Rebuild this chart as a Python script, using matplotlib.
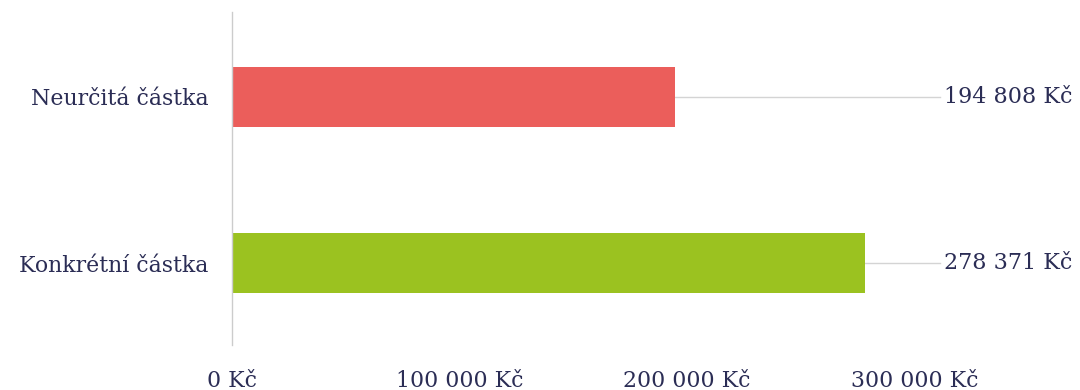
import matplotlib.pyplot as plt

kategorie = ['Konkrétní částka', 'Neurčitá částka']
hodnoty = [278371, 194808]
barvy = ['#9BC220', '#EB5E5B']
popisky = ['278 371 Kč', '194 808 Kč']
ticky = [0, 100000, 200000, 300000]
tick_popisky = ['0 Kč', '100 000 Kč', '200 000 Kč', '300 000 Kč']

text_barva = '#2B2D55'
plt.rcParams['font.family'] = ['DejaVu Serif']

fig = plt.figure(figsize=(10.8, 3.9), dpi=100)
ax = fig.add_axes([0.2148, 0.1154, 0.870 - 0.2148, 0.969 - 0.1154])

y = range(len(kategorie))
ax.barh(y, hodnoty, height=0.36, color=barvy, zorder=2)

xmax = 311000
for i, v in enumerate(hodnoty):
    # vodici cara od konce sloupce k popisku
    ax.plot([v, xmax], [i, i], color='#d4d4d4', lw=1, zorder=1, clip_on=False)
    ax.text(xmax + 2000, i, popisky[i], va='center', ha='left',
            fontsize=16, color=text_barva)

ax.set_xlim(0, xmax)
ax.set_ylim(-0.49, 1.51)
ax.set_yticks(list(y))
ax.set_yticklabels(kategorie, fontsize=15.8, color=text_barva)
ax.set_xticks(ticks=ticky)
ax.set_xticklabels(tick_popisky, fontsize=15.8, color=text_barva)
ax.tick_params(axis='x', length=0, pad=18)
ax.tick_params(axis='y', length=0, pad=17)

for s in ['top', 'right', 'bottom']:
    ax.spines[s].set_visible(False)
ax.spines['left'].set_color('#cccccc')
ax.spines['left'].set_linewidth(1)

fig.savefig('out.png', dpi=100)
